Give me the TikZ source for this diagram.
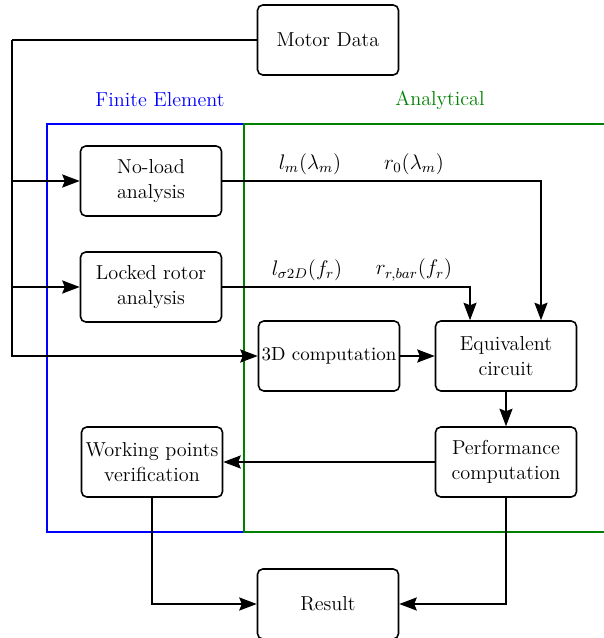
\documentclass[tikz,border=0pt]{standalone}
\usepackage{amsmath}
\usetikzlibrary{arrows.meta}

\begin{document}
\begin{tikzpicture}[x=0.02cm, y=-0.02cm, >={Stealth[length=10pt, width=7.5pt, inset=1.5pt]},
  block/.style={draw, line width=0.9pt, rounded corners=3pt, minimum width=2.82cm,
    minimum height=1.4cm, inner xsep=1pt, align=center, font=\fontsize{11.5}{14.5}\selectfont},
  link/.style={->, line width=0.7pt},
  lbl/.style={font=\fontsize{11.5}{14}\selectfont}]

\useasboundingbox (0,0) rectangle (603,638);

% Regions
\draw[blue, line width=1.4pt] (47,124) rectangle (244,532);
\draw[green!50!black, line width=1.4pt] (615,124) -- (244,124) -- (244,532) -- (615,532);
\node[lbl, text=blue] (felabel) at (160,100) {Finite Element};
\node[lbl, text=green!50!black] (anlabel) at (440,100) {Analytical};

% Blocks
\node[block] (motor) at (328,40) {Motor Data};
\node[block] (noload) at (151,181) {No-load\\analysis};
\node[block] (locked) at (151,287) {Locked rotor\\analysis};
\node[block, font=\fontsize{10.8}{14}\selectfont] (comp3d) at (329,356) {3D computation};
\node[block] (equiv) at (506,356) {Equivalent\\circuit};
\node[block] (perf) at (506,462) {Performance\\computation};
\node[block] (working) at (152,462) {Working points\\verification};
\node[block] (result) at (328,604) {Result};

% Motor data distribution
\coordinate (bus) at (12,40);
\draw[line width=0.7pt] (motor.west) -- (bus);
\draw[link] (bus) |- (comp3d.west);
\draw[link] (bus |- noload.west) -- (noload.west);
\draw[link] (bus |- locked.west) -- (locked.west);

% Parameters to the equivalent circuit
\draw[link] (noload.east) -| ([xshift=0.7cm]equiv.north);
\draw[link] (locked.east) -| ([xshift=-0.72cm]equiv.north);
\node[lbl] (lm) at (310,164) {$l_m(\lambda_m)$};
\node[lbl] (rzero) at (414,164) {$r_0(\lambda_m)$};
\node[lbl] (lsigma) at (307,270) {$l_{\sigma 2D}(f_r)$};
\node[lbl] (rbar) at (414,270) {$r_{r,bar}(f_r)$};

% Analytical chain
\draw[link] (comp3d.east) -- (equiv.west);
\draw[link] (equiv.south) -- (perf.north);
\draw[link] (perf.west) -- (working.east);

% Result
\draw[link] (working.south) |- (result.west);
\draw[link] (perf.south) |- (result.east);

\end{tikzpicture}
\end{document}
